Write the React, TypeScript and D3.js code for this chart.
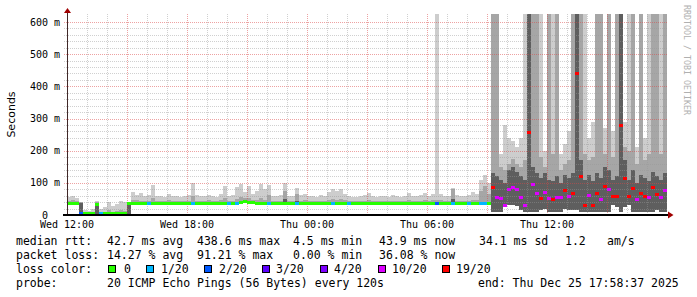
import React from 'react';
import * as d3 from 'd3';

// ---- time frame (RRD step consolidated into 12-minute columns) ----
const startTime = new Date(2025, 11, 24, 12, 0, 0);
const endTime = new Date(2025, 11, 25, 18, 0, 0);
const stepMinutes = 12;

// ---- series (ms) ----
const medianMs = [
  36, 36, 36, 6, 5, 5, 6, 34, 4, 4,
  4, 5, 4, 4, 4, 36, 36, 36, 35, 36,
  36, 36, 36, 35, 36, 36, 36, 36, 36, 36,
  36, 36, 36, 36, 36, 36, 36, 36, 36, 36,
  36, 36, 36, 39, 41, 40, 38, 36, 36, 36,
  36, 36, 36, 36, 36, 36, 36, 36, 36, 36,
  36, 36, 36, 36, 36, 36, 36, 36, 36, 36,
  36, 36, 36, 36, 36, 36, 36, 36, 36, 36,
  36, 36, 36, 36, 36, 36, 36, 36, 36, 36,
  36, 36, 36, 36, 36, 36, 36, 36, 36, 36,
  36, 36, 36, 36, 36, 36, 84, 53, 50, 30,
  78, 87, 80, 55, 31, 255, 95, 68, 50, 71,
  50, 47, 55, 53, 75, 56, 68, 441, 120, 30,
  60, 31, 68, 47, 90, 78, 56, 56, 277, 115,
  59, 81, 47, 68, 59, 53, 84, 65, 53, 76,
];

const lossCount = [
  0, 0, 0, 2, 0, 0, 0, 0, 1, 0,
  0, 0, 0, 0, 0, 0, 0, 0, 0, 0,
  1, 0, 0, 0, 0, 0, 0, 0, 0, 0,
  0, 1, 0, 0, 0, 0, 0, 0, 0, 0,
  1, 0, 1, 0, 0, 0, 0, 0, 0, 0,
  1, 0, 0, 0, 0, 0, 0, 1, 0, 0,
  0, 0, 0, 0, 0, 0, 1, 0, 0, 0,
  1, 0, 0, 0, 0, 0, 0, 0, 0, 0,
  0, 0, 0, 0, 0, 0, 0, 0, 0, 0,
  0, 0, 2, 0, 0, 0, 1, 0, 0, 0,
  1, 0, 0, 1, 1, 0, 19, 10, 10, 10,
  10, 10, 10, 10, 10, 19, 10, 10, 19, 10,
  10, 19, 10, 10, 19, 10, 19, 19, 19, 19,
  10, 19, 19, 10, 19, 10, 19, 19, 19, 19,
  19, 19, 10, 19, 19, 10, 19, 19, 10, 10,
];

const minMs = [
  33, 33, 33, 5, 3, 3, 3, 4, 2, 2,
  2, 3, 2, 2, 2, 3, 33, 33, 33, 33,
  33, 33, 33, 33, 33, 33, 33, 33, 33, 33,
  33, 33, 33, 33, 33, 33, 33, 33, 33, 33,
  33, 33, 33, 35, 36, 36, 34, 33, 33, 33,
  33, 33, 33, 33, 30, 33, 33, 30, 33, 33,
  33, 33, 33, 33, 33, 33, 33, 33, 33, 33,
  33, 33, 33, 33, 33, 33, 33, 33, 33, 33,
  33, 33, 33, 33, 33, 33, 33, 33, 33, 33,
  33, 33, 33, 33, 33, 33, 30, 33, 33, 33,
  33, 33, 33, 32, 32, 33, 10, 8, 8, 25,
  30, 30, 28, 15, 10, 8, 8, 8, 15, 20,
  10, 10, 8, 10, 18, 15, 15, 15, 10, 8,
  8, 8, 8, 8, 10, 10, 30, 25, 10, 25,
  30, 10, 10, 10, 10, 10, 10, 15, 10, 10,
];

const darkTopMs = [
  36, 36, 36, 36, 5, 5, 6, 34, 4, 4,
  4, 5, 4, 4, 4, 36, 36, 36, 35, 36,
  36, 36, 36, 35, 36, 36, 36, 36, 36, 36,
  36, 36, 36, 36, 36, 36, 36, 36, 36, 36,
  36, 36, 36, 39, 41, 40, 38, 36, 36, 36,
  36, 36, 36, 36, 50, 36, 36, 45, 36, 36,
  36, 36, 36, 36, 36, 36, 36, 36, 36, 36,
  36, 36, 36, 36, 36, 36, 36, 36, 36, 36,
  36, 36, 36, 36, 36, 36, 36, 36, 36, 36,
  36, 36, 36, 36, 36, 36, 50, 36, 36, 36,
  36, 36, 36, 36, 36, 36, 130, 120, 110, 100,
  140, 150, 135, 120, 110, 625, 150, 130, 115, 130,
  110, 105, 120, 100, 125, 115, 130, 625, 170, 110,
  125, 105, 130, 115, 150, 140, 110, 120, 625, 170,
  110, 140, 100, 125, 115, 105, 135, 120, 110, 130,
];

const midTopMs = [
  44, 46, 44, 40, 9, 9, 10, 40, 8, 10,
  14, 10, 12, 15, 12, 40, 48, 46, 45, 44,
  45, 52, 45, 44, 43, 46, 44, 45, 43, 44,
  45, 58, 45, 44, 43, 46, 44, 43, 46, 52,
  45, 45, 50, 56, 52, 54, 47, 48, 52, 48,
  62, 45, 44, 45, 75, 45, 44, 66, 45, 46,
  45, 44, 43, 45, 44, 48, 50, 48, 50, 46,
  45, 43, 43, 44, 45, 46, 44, 43, 45, 44,
  43, 45, 44, 43, 45, 46, 45, 44, 45, 46,
  45, 46, 48, 46, 45, 44, 80, 45, 44, 43,
  45, 48, 46, 75, 90, 65, 625, 625, 150, 140,
  160, 175, 160, 150, 170, 625, 625, 625, 180, 150,
  625, 190, 625, 140, 160, 170, 625, 625, 625, 190,
  170, 180, 625, 625, 190, 625, 180, 625, 625, 210,
  200, 625, 160, 625, 170, 190, 625, 625, 190, 625,
];

const maxMs = [
  55, 58, 52, 40, 14, 12, 20, 42, 18, 25,
  40, 28, 35, 45, 40, 40, 70, 62, 68, 58,
  62, 92, 60, 58, 56, 65, 58, 60, 55, 58,
  62, 100, 62, 60, 58, 63, 60, 56, 64, 90,
  60, 62, 88, 95, 72, 90, 65, 75, 95, 80,
  93, 60, 58, 62, 99, 60, 58, 84, 62, 64,
  60, 58, 56, 62, 60, 72, 80, 75, 80, 65,
  60, 56, 55, 58, 62, 68, 58, 56, 60, 58,
  56, 62, 58, 55, 60, 68, 60, 58, 62, 68,
  60, 64, 625, 65, 60, 58, 84, 62, 60, 58,
  62, 70, 65, 110, 124, 100, 625, 625, 190, 280,
  240, 230, 210, 240, 625, 625, 625, 625, 625, 200,
  625, 625, 625, 190, 220, 260, 625, 625, 625, 625,
  240, 290, 625, 625, 270, 625, 260, 625, 625, 290,
  625, 625, 210, 625, 240, 625, 625, 625, 625, 625,
];

// ---- axes / legend text ----
const yTicks = [0, 100, 200, 300, 400, 500, 600];
const yTickLabels = ['  0  ', '100 m', '200 m', '300 m', '400 m', '500 m', '600 m'];
const lossLevels = [0, 1, 2, 3, 4, 10, 19];
const lossColors = ['#26ff00', '#00b8ff', '#0059ff', '#5e00ff', '#7e00ff', '#dd00ff', '#ff0000'];
const lossLabels = ['0', '1/20', '2/20', '3/20', '4/20', '10/20', '19/20'];
const medianLine = ['median rtt:', '42.7 ms avg', '438.6 ms max', '4.5 ms min', '43.9 ms now', '34.1 ms sd', '1.2', 'am/s'];
const lossLine = ['packet loss:', '14.27 % avg', '91.21 % max', '0.00 % min', '36.08 % now'];
const probeLine = ['probe:', '20 ICMP Echo Pings (56 Bytes) every 120s', 'end: Thu Dec 25 17:58:37 2025'];

// layout (positions only)
const line1X = [16, 107, 197, 293, 379, 479, 565, 607];
const line2X = [16, 107, 197, 293, 379];
const boxX = [108, 146, 204, 262, 320, 378, 442];
const boxLabelX = [124, 161, 219, 276, 334, 392, 456];
const line4X = [16, 107, 478];

const MONO = "'DejaVu Sans Mono', monospace";

function lossColor(c: number) {
  let col = lossColors[0];
  lossLevels.forEach((lv, k) => { if (c >= lv) col = lossColors[k]; });
  return col;
}

export default function App() {
  const x = d3.scaleTime().domain([startTime, endTime]).range([67, 667]);
  const y = d3.scaleLinear().domain([0, 600]).range([215, 22]);
  const topY = 14;
  const yc = (v: number) => Math.max(topY, y(v));
  const times = medianMs.map((_, i) => d3.timeMinute.offset(startTime, i * stepMinutes));
  const colX0 = (i: number) => x(times[i]);
  const colX1 = (i: number) => x(d3.timeMinute.offset(times[i], stepMinutes));

  const minorH = d3.range(20, 601, 20).filter((v) => v % 100 !== 0);
  const majorH = yTicks.filter((v) => v > 0);
  const hours = d3.timeHour.range(d3.timeHour.offset(startTime, 1), endTime);
  const xLabels = d3.timeHour.every(6)!.range(startTime, endTime);
  const fmt = d3.timeFormat('%a %H:%M');

  const crisp = (v: number) => Math.round(v) + 0.5;

  return (
    <svg width={697} height={297} style={{ position: 'absolute', left: 0, top: 0, background: '#fff' }}
      xmlns="http://www.w3.org/2000/svg">
      <rect x={0} y={0} width={697} height={297} fill="#ffffff" />

      {/* smoke */}
      <g shapeRendering="crispEdges">
        {medianMs.map((_, i) => (
          <rect key={'l' + i} x={colX0(i)} width={colX1(i) - colX0(i)}
            y={yc(maxMs[i])} height={y(minMs[i]) - yc(maxMs[i])} fill="#cdcdcd" />
        ))}
        {medianMs.map((_, i) => (
          <rect key={'m' + i} x={colX0(i)} width={colX1(i) - colX0(i)}
            y={yc(midTopMs[i])} height={Math.max(0, y(minMs[i]) - yc(midTopMs[i]))} fill="#a6a6a6" />
        ))}
        {medianMs.map((_, i) => (
          <rect key={'d' + i} x={colX0(i)} width={colX1(i) - colX0(i)}
            y={yc(darkTopMs[i])} height={Math.max(0, y(minMs[i]) - yc(darkTopMs[i]))} fill="#5e5e5e" />
        ))}
      </g>

      {/* grid */}
      <g fill="none" strokeWidth={1}>
        {minorH.map((v) => (
          <line key={'gh' + v} x1={64} x2={667} y1={crisp(y(v))} y2={crisp(y(v))}
            stroke="rgba(150,150,150,0.45)" strokeDasharray="1,1" />
        ))}
        {hours.filter((h) => h.getHours() % 3 !== 0).map((h) => (
          <line key={'gv' + h.getTime()} x1={crisp(x(h))} x2={crisp(x(h))} y1={topY} y2={215}
            stroke="rgba(150,150,150,0.45)" strokeDasharray="1,1" />
        ))}
        {majorH.map((v) => (
          <line key={'mh' + v} x1={64} x2={667} y1={crisp(y(v))} y2={crisp(y(v))}
            stroke="rgba(220,70,70,0.5)" strokeDasharray="1,1" />
        ))}
        {hours.filter((h) => h.getHours() % 3 === 0).map((h) => (
          <line key={'mv' + h.getTime()} x1={crisp(x(h))} x2={crisp(x(h))} y1={topY} y2={215}
            stroke="rgba(220,70,70,0.5)" strokeDasharray="1,1" />
        ))}
      </g>

      {/* median */}
      <g shapeRendering="crispEdges">
        {medianMs.map((m, i) => (
          <rect key={'md' + i} x={colX0(i)} width={colX1(i) - colX0(i)}
            y={Math.max(topY, y(m) - 1.5)} height={3} fill={lossColor(lossCount[i])} />
        ))}
      </g>

      {/* axes */}
      <line x1={67.5} x2={67.5} y1={12} y2={215} stroke="#402828" strokeWidth={1} />
      <line x1={63} x2={668} y1={215} y2={215} stroke="#000" strokeWidth={2} />
      <polygon points="64,13 71,13 67.5,8" fill="#a00000" />
      <polygon points="668,211.5 668,218.5 673.5,215" fill="#a00000" />

      {/* tick labels */}
      <g fontFamily={MONO} fontSize={10} fill="#000">
        {yTicks.map((v, k) => (
          <text key={'yl' + v} x={30} y={y(v) + 3.5} style={{ whiteSpace: 'pre' }}>{yTickLabels[k]}</text>
        ))}
        {xLabels.map((t) => (
          <text key={'xl' + t.getTime()} x={x(t)} y={228} textAnchor="middle">{fmt(t)}</text>
        ))}
      </g>

      {/* titles */}
      <text transform="translate(15,114.5) rotate(-90)" textAnchor="middle"
        fontFamily="'DejaVu Sans', sans-serif" fontSize={11} fill="#000">Seconds</text>
      <text transform="translate(684,5) rotate(90)" fontFamily={MONO} fontSize={8.3} fill="#b0b0b0">
        RRDTOOL / TOBI OETIKER
      </text>

      {/* legend */}
      <g fontFamily={MONO} fontSize={11.5} fill="#000" style={{ whiteSpace: 'pre' }}>
        {medianLine.map((s, k) => (
          <text key={'l1' + k} x={line1X[k]} y={245}>{s}</text>
        ))}
        {lossLine.map((s, k) => (
          <text key={'l2' + k} x={line2X[k]} y={259}>{s}</text>
        ))}
        <text x={16} y={273}>loss color:</text>
        {lossLabels.map((s, k) => (
          <g key={'lc' + k}>
            <rect x={boxX[k] + 0.5} y={265.5} width={7} height={7} fill={lossColors[k]} stroke="#000" strokeWidth={1} />
            <text x={boxLabelX[k]} y={273}>{s}</text>
          </g>
        ))}
        {probeLine.map((s, k) => (
          <text key={'l4' + k} x={line4X[k]} y={287}>{s}</text>
        ))}
      </g>
    </svg>
  );
}
